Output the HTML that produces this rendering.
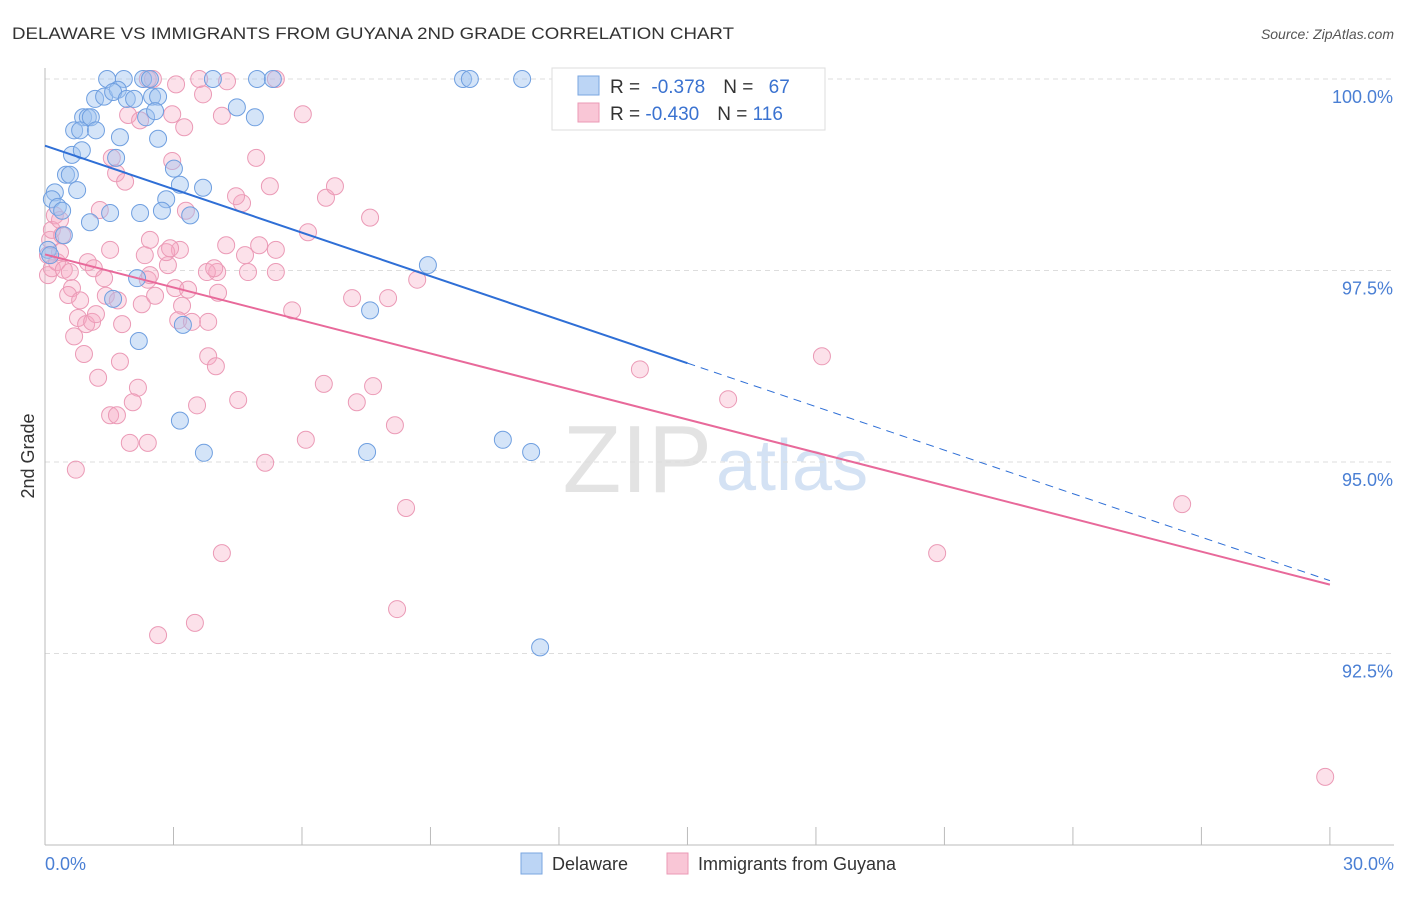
<!DOCTYPE html>
<html><head><meta charset="utf-8"><style>
body{margin:0;background:#fff;font-family:"Liberation Sans",sans-serif;}
svg text{font-family:"Liberation Sans",sans-serif;}
</style></head><body>
<svg id="chart" width="1406" height="892" xmlns="http://www.w3.org/2000/svg">
<text x="12" y="39" font-size="17" fill="#333" textLength="722" lengthAdjust="spacingAndGlyphs">DELAWARE VS IMMIGRANTS FROM GUYANA 2ND GRADE CORRELATION CHART</text>
<text x="1394" y="39" font-size="14" fill="#555" font-style="italic" text-anchor="end">Source: ZipAtlas.com</text>
<text x="712" y="492" font-size="96" fill="#e3e3e3" text-anchor="end" font-family="Liberation Serif">ZIP</text>
<text x="716" y="490" font-size="72" fill="#d4e2f4">atlas</text>
<g id="grid"></g><g id="axes"></g><g id="pts"></g><g id="lines"></g>
<text transform="translate(34,456) rotate(-90)" font-size="18" fill="#333" text-anchor="middle">2nd Grade</text>
<text x="45" y="870" font-size="18" fill="#4a7fd4">0.0%</text>
<text x="1394" y="870" font-size="18" fill="#4a7fd4" text-anchor="end">30.0%</text>
<g>
<rect x="552" y="68" width="273" height="62" fill="#fff" stroke="#ddd"/>
<rect x="578" y="76" width="21" height="19" fill="#bcd5f5" stroke="#7aa6e0"/>
<rect x="578" y="103" width="21" height="19" fill="#f9c6d6" stroke="#eb9ab6"/>
<text x="610" y="93" font-size="19" fill="#333">R = <tspan fill="#3a72d0" dx="6">-0.378</tspan><tspan dx="18" fill="#333">N = </tspan><tspan fill="#3a72d0" dx="10">67</tspan></text>
<text x="610" y="120" font-size="19" fill="#333">R = <tspan fill="#3a72d0">-0.430</tspan><tspan dx="18" fill="#333">N = </tspan><tspan fill="#3a72d0">116</tspan></text>
</g>
<g>
<rect x="521" y="853" width="21" height="21" fill="#bcd5f5" stroke="#7aa6e0"/>
<text x="552" y="870" font-size="18" fill="#333">Delaware</text>
<rect x="667" y="853" width="21" height="21" fill="#f9c6d6" stroke="#eb9ab6"/>
<text x="698" y="870" font-size="18" fill="#333">Immigrants from Guyana</text>
</g>
</svg>
<script>
const yTicks=[100,97.5,95,92.5];
const yTickLabels=["100.0%","97.5%","95.0%","92.5%"];
const xTicks=[0,3,6,9,12,15,18,21,24,27,30];
const blueX=[1.45,1.84,2.29,2.45,3.92,4.95,5.32,9.76,9.92,11.14,1.17,1.38,1.70,1.59,1.91,2.08,2.50,2.64,4.48,4.90,0.89,1.00,1.07,0.68,0.82,1.19,1.75,2.64,2.36,2.57,0.63,0.86,1.66,0.49,0.58,0.23,0.16,0.75,3.01,3.15,3.69,2.83,0.30,0.40,1.52,2.22,2.73,3.39,1.05,0.44,0.07,0.12,8.94,2.15,1.59,3.22,7.59,2.19,3.15,3.71,7.52,10.69,11.35,11.56];
const blueY=[100,100,100,100,100,100,100,100,100,100,99.74,99.77,99.86,99.83,99.74,99.74,99.77,99.77,99.63,99.50,99.50,99.50,99.50,99.33,99.33,99.33,99.24,99.22,99.50,99.58,99.01,99.07,98.97,98.75,98.75,98.52,98.43,98.55,98.83,98.62,98.58,98.43,98.33,98.28,98.25,98.25,98.28,98.22,98.13,97.96,97.77,97.70,97.57,97.40,97.13,96.79,96.98,96.58,95.54,95.12,95.13,95.29,95.13,92.58];
const pinkX=[0.07,0.12,0.16,0.23,0.35,0.40,0.07,0.16,0.28,0.35,0.44,0.58,0.63,0.54,0.82,0.77,0.68,0.96,1.10,1.19,0.91,1.24,1.00,1.14,1.38,1.42,1.52,1.56,1.66,1.87,1.70,1.80,1.75,2.17,2.05,1.52,1.68,1.98,2.40,0.72,1.28,2.26,2.40,2.57,2.45,2.33,2.45,2.87,3.04,3.20,3.11,3.43,3.81,3.34,4.04,4.02,3.78,3.95,4.23,4.67,4.74,5.00,5.39,5.39,5.25,4.93,4.60,4.46,3.29,2.97,3.15,2.83,2.92,3.25,2.97,2.40,2.52,3.06,3.60,3.69,4.25,4.13,5.39,6.02,6.14,6.56,6.77,7.59,5.77,7.17,8.01,8.69,3.81,3.99,3.55,4.51,6.51,7.66,7.28,8.17,6.09,5.14,8.43,4.13,3.50,2.64,8.22,13.89,15.95,18.14,20.83,26.55,29.89,1.94,2.22];
const pinkY=[97.70,97.90,98.03,98.22,98.16,97.96,97.44,97.53,97.61,97.74,97.51,97.48,97.27,97.18,97.11,96.88,96.64,96.80,96.83,96.93,96.41,96.10,97.61,97.53,97.40,97.17,97.77,98.97,98.77,98.66,97.11,96.80,96.31,95.97,95.78,95.61,95.61,95.25,95.25,94.90,98.29,97.06,97.38,97.17,97.44,97.70,97.90,97.57,97.27,97.04,96.85,96.83,96.83,97.25,97.21,97.48,97.48,97.53,97.83,97.70,97.48,97.83,97.77,97.48,98.60,98.97,98.38,98.47,98.28,98.93,97.77,97.74,97.79,99.37,99.54,100,100,99.93,100,99.80,99.97,99.52,100,99.54,98.00,98.45,98.60,98.19,96.98,97.14,97.14,97.38,96.38,96.25,95.74,95.81,96.02,95.99,95.78,95.48,95.29,94.99,94.40,93.81,92.90,92.74,93.08,96.21,95.82,96.38,93.81,94.45,90.89,99.53,99.46];
const blueTrend=[99.13,-0.1893];
const pinkTrend=[97.71,-0.1437];
const blueSolidEnd=15;
const NS="http://www.w3.org/2000/svg";
const sx=v=>45+v*42.83;
const sy=v=>79+(100-v)*76.6;
function mk(tag,attrs,parent){const e=document.createElementNS(NS,tag);for(const k in attrs)e.setAttribute(k,attrs[k]);document.getElementById(parent).appendChild(e);return e;}
yTicks.forEach((t,i)=>{
 const g=mk('line',{x1:45,x2:1394,y1:sy(t),y2:sy(t),stroke:'#ddd','stroke-dasharray':'5,4'},'grid');
 
 
 const tx=mk('text',{x:1393,y:sy(t)+24,'font-size':18,fill:'#4a7fd4','text-anchor':'end'},'grid');
 tx.textContent=yTickLabels[i];
 
 
});
const ya=mk('line',{x1:45,x2:45,y1:68,y2:845,stroke:'#bbb'},'axes');


const xa=mk('line',{x1:45,x2:1394,y1:845,y2:845,stroke:'#bbb'},'axes');


xTicks.forEach(t=>{const l=mk('line',{x1:sx(t),x2:sx(t),y1:827,y2:845,stroke:'#bbb'},'axes');
 
 });
pinkX.forEach((x,i)=>{const c=mk('circle',{cx:sx(x),cy:sy(pinkY[i]),r:8.5,fill:'rgba(245,170,196,0.35)',stroke:'#eb9ab6','stroke-width':1},'pts');
 
 });
blueX.forEach((x,i)=>{const c=mk('circle',{cx:sx(x),cy:sy(blueY[i]),r:8.5,fill:'rgba(160,195,240,0.45)',stroke:'#6f9fe0','stroke-width':1},'pts');
 
 });
const bl=mk('line',{x1:sx(0),y1:sy(blueTrend[0]),x2:sx(blueSolidEnd),y2:sy(blueTrend[0]+blueTrend[1]*blueSolidEnd),stroke:'#2f6fd6','stroke-width':2},'lines');


const bd=mk('line',{x1:sx(blueSolidEnd),y1:sy(blueTrend[0]+blueTrend[1]*blueSolidEnd),x2:sx(30),y2:sy(blueTrend[0]+blueTrend[1]*30),stroke:'#2f6fd6','stroke-width':1,'stroke-dasharray':'8,6'},'lines');


const pl=mk('line',{x1:sx(0),y1:sy(pinkTrend[0]),x2:sx(30),y2:sy(pinkTrend[0]+pinkTrend[1]*30),stroke:'#e8699a','stroke-width':2},'lines');


</script>
</body></html>
